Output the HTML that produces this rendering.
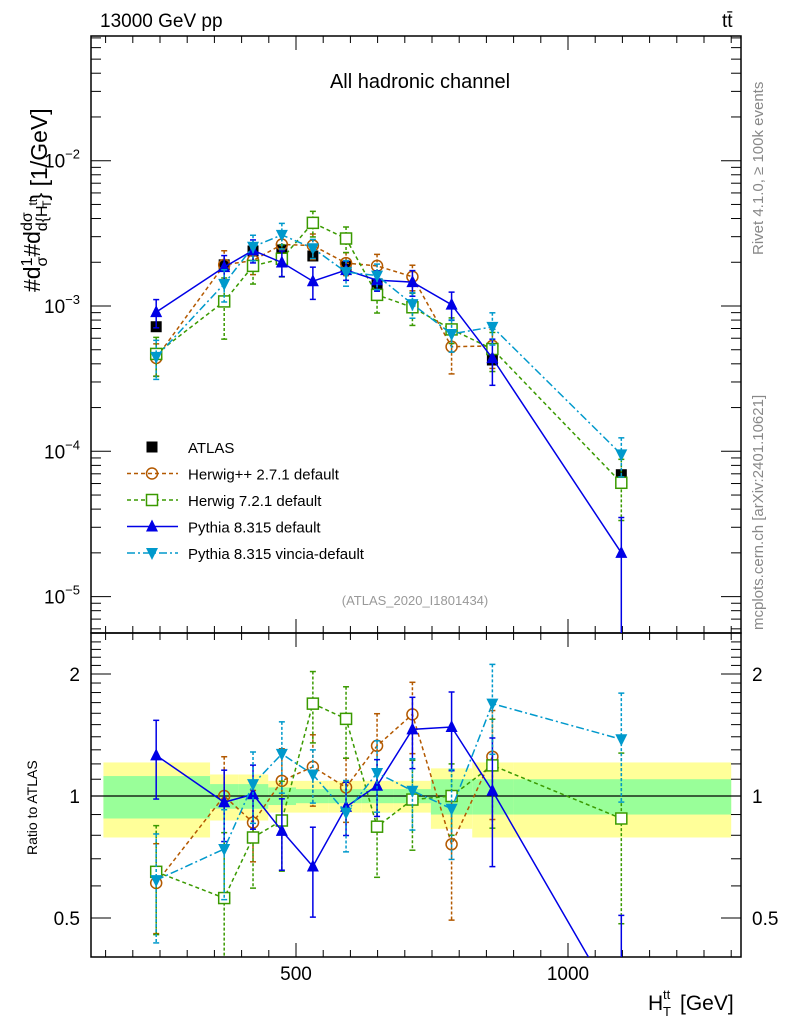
<!DOCTYPE html>
<html><head><meta charset="utf-8"><style>
html,body{margin:0;padding:0;background:#fff;}
svg text{font-family:"Liberation Sans",sans-serif;}
</style></head><body>
<svg id="chart" width="786" height="1024" xmlns="http://www.w3.org/2000/svg">
<g id="bands"></g>
<g id="grid"></g>
<g id="series"></g>
<text x="100" y="27" font-size="19">13000 GeV pp</text>
<text x="722" y="27" font-size="19">tt̄</text>
<text x="420" y="88" font-size="20" text-anchor="middle">All hadronic channel</text>
<text x="415" y="605" font-size="13" fill="#999" text-anchor="middle">(ATLAS_2020_I1801434)</text>
<text transform="translate(40,292) rotate(-90)" font-size="23">#d<tspan font-size="16" dy="-8">1</tspan><tspan font-size="16" dx="-9" dy="15">σ</tspan><tspan dy="-7">#d</tspan><tspan font-size="16" dy="-8">dσ</tspan><tspan font-size="16" dx="-19" dy="15">d{H</tspan><tspan font-size="12" dy="-10">tt</tspan><tspan font-size="12" dx="-9" dy="14">T</tspan><tspan dy="-4">} [1/GeV]</tspan></text>
<text transform="translate(763,255) rotate(-90)" font-size="15" fill="#888">Rivet 4.1.0, ≥ 100k events</text>
<text transform="translate(763,630) rotate(-90)" font-size="15" fill="#888">mcplots.cern.ch [arXiv:2401.10621]</text>
<text transform="translate(37,855) rotate(-90)" font-size="14">Ratio to ATLAS</text>
<g>
<text x="648" y="1010" font-size="21">H</text>
<text x="663" y="999" font-size="13">tt</text>
<text x="663" y="1016" font-size="13">T</text>
<text x="680" y="1010" font-size="21">[GeV]</text>
</g>
<g id="legend"></g>
</svg>
<script>
const xs = [243, 368, 421, 474, 531, 592, 649, 714, 786, 861, 1098];
const edges = [146, 342, 394, 449, 500, 560, 620, 680, 748, 824, 900, 1300];
const atlas = [7.2e-4, 1.92e-3, 2.39e-3, 2.43e-3, 2.21e-3, 1.88e-3, 1.42e-3, 1.0e-3, 6.9e-4, 4.25e-4, 6.9e-5];
const bandTot = [0.21, 0.13, 0.13, 0.09, 0.09, 0.09, 0.09, 0.09, 0.17, 0.21, 0.21];
const bandStat = [0.12, 0.07, 0.07, 0.05, 0.04, 0.04, 0.04, 0.04, 0.10, 0.10, 0.10];
const rHerwigpp = [0.61, 1.0, 0.86, 1.09, 1.18, 1.05, 1.33, 1.59, 0.76, 1.25];
const eHerwigpp = [0.25, 0.25, 0.2, 0.2, 0.2, 0.18, 0.2, 0.2, 0.35, 0.3];
const rHerwig7 = [0.65, 0.56, 0.79, 0.87, 1.69, 1.55, 0.84, 0.98, 1.0, 1.19, 0.88];
const eHerwig7 = [0.3, 0.45, 0.25, 0.25, 0.2, 0.2, 0.25, 0.25, 0.2, 0.3, 0.45];
const rPythia = [1.26, 0.965, 1.01, 0.82, 0.67, 0.94, 1.06, 1.46, 1.48, 1.03, 0.29];
const ePythia = [0.22, 0.2, 0.18, 0.2, 0.25, 0.15, 0.16, 0.2, 0.22, 0.35, 0.75];
const rVincia = [0.62, 0.74, 1.07, 1.27, 1.13, 0.91, 1.14, 1.03, 0.93, 1.69, 1.38];
const eVincia = [0.3, 0.25, 0.2, 0.2, 0.15, 0.2, 0.2, 0.2, 0.25, 0.25, 0.3];
const mainTicks = ["10^-2", "10^-3", "10^-4", "10^-5"];
const ratioTicks = [0.5, 1, 2];
const xTicks = [500, 1000];

const NS = "http://www.w3.org/2000/svg";
const L = 91, R = 741, T = 36, M = 633, B = 957;
const X = v => 24 + v * 0.544;
const YM = v => 306 - (Math.log10(v) + 3) * 145.3;
const YR = v => 796 - Math.log2(v) * 122;
function mk(tag, attrs, parent) { const e = document.createElementNS(NS, tag); for (const k in attrs) e.setAttribute(k, attrs[k]); parent.appendChild(e); return e; }
const g = document.getElementById('grid'), bands = document.getElementById('bands'), ser = document.getElementById('series'), leg = document.getElementById('legend');

for (let i = 0; i < bandTot.length; i++) {
  const x0 = X(edges[i]), x1 = X(edges[i + 1]);
  const y = mk('rect', { x: x0, y: YR(1 + bandTot[i]), width: x1 - x0, height: YR(1 - bandTot[i]) - YR(1 + bandTot[i]), fill: '#ffff99' }, bands);
  
  
}
for (let i = 0; i < bandStat.length; i++) {
  const x0 = X(edges[i]), x1 = X(edges[i + 1]);
  const r = mk('rect', { x: x0, y: YR(1 + bandStat[i]), width: x1 - x0, height: YR(1 - bandStat[i]) - YR(1 + bandStat[i]), fill: '#99ff99' }, bands);
  
  
}
const one = mk('line', { x1: L, x2: R, y1: YR(1), y2: YR(1), stroke: '#000', 'stroke-width': 1.3 }, bands);



for (const [y0, y1, nm] of [[T, M, 'main-frame'], [M, B, 'ratio-frame']]) {
  const f = mk('rect', { x: L, y: y0, width: R - L, height: y1 - y0, fill: 'none', stroke: '#000', 'stroke-width': 1.5 }, g);
  
  
}
for (let v = 150; v <= 1300; v += 50) {
  const x = X(v); if (x < L || x > R) continue;
  const big = v % 500 === 0, len = big ? 14 : 7;
  for (const [y, d] of [[B, -1], [M, -1], [M, 1], [T, 1]]) mk('line', { x1: x, x2: x, y1: y, y2: y + d * len, stroke: '#000' }, g);
}
xTicks.forEach(v => {
  const t = mk('text', { x: X(v), y: 980, 'font-size': 19, 'text-anchor': 'middle' }, g);
  t.textContent = v;
  
  
});
for (let d = -6; d <= -1; d++) for (let m = 1; m <= 9; m++) {
  const v = m * Math.pow(10, d), y = YM(v); if (y < T || y > M) continue;
  const len = m === 1 ? 20 : 10;
  mk('line', { x1: L, x2: L + len, y1: y, y2: y, stroke: '#000' }, g);
  mk('line', { x1: R, x2: R - len, y1: y, y2: y, stroke: '#000' }, g);
}
mainTicks.forEach(s => {
  const e = parseInt(s.split('^')[1]);
  const t = mk('text', { x: 80, y: YM(Math.pow(10, e)) + 7, 'font-size': 19, 'text-anchor': 'end' }, g);
  t.innerHTML = '10<tspan font-size="13" dy="-9">' + e.toString().replace('-', '−') + '</tspan>';
  
  
});
for (let v = 0.4; v <= 2.5; v += 0.1) {
  const y = YR(v); if (y < M || y > B) continue;
  const big = Math.abs(v - 0.5) < 1e-6 || Math.abs(v - 1) < 1e-6 || Math.abs(v - 2) < 1e-6;
  const len = big ? 20 : 10;
  mk('line', { x1: L, x2: L + len, y1: y, y2: y, stroke: '#000' }, g);
  mk('line', { x1: R, x2: R - len, y1: y, y2: y, stroke: '#000' }, g);
}
ratioTicks.forEach(v => {
  for (const [x, a] of [[80, 'end'], [752, 'start']]) {
    const t = mk('text', { x: x, y: YR(v) + 7, 'font-size': 19, 'text-anchor': a }, g);
    t.textContent = v;
    
    
  }
});

function marker(p, type, x, y, col, name) {
  let e;
  if (type === 'sq') e = mk('rect', { x: x - 5.5, y: y - 5.5, width: 11, height: 11, fill: '#000' }, p);
  if (type === 'osq') e = mk('rect', { x: x - 5.5, y: y - 5.5, width: 11, height: 11, fill: '#fff', stroke: col, 'stroke-width': 1.5 }, p);
  if (type === 'oc') e = mk('circle', { cx: x, cy: y, r: 5.5, fill: 'none', stroke: col, 'stroke-width': 1.5 }, p);
  if (type === 'up') e = mk('polygon', { points: `${x},${y - 7} ${x - 6},${y + 5} ${x + 6},${y + 5}`, fill: col }, p);
  if (type === 'dn') e = mk('polygon', { points: `${x},${y + 7} ${x - 6},${y - 5} ${x + 6},${y - 5}`, fill: col }, p);
  
  
}
function clipY(y, lo, hi) { return Math.max(lo, Math.min(hi, y)); }
const defs = [
  { r: rHerwigpp, e: eHerwigpp, col: '#b35900', m: 'oc', dash: '4,3', name: 'herwigpp', lab: 'Herwig++ 2.7.1 default' },
  { r: rHerwig7, e: eHerwig7, col: '#3a9a00', m: 'osq', dash: '4,3', name: 'herwig7', lab: 'Herwig 7.2.1 default' },
  { r: rPythia, e: ePythia, col: '#0000e6', m: 'up', dash: '', name: 'pythia', lab: 'Pythia 8.315 default' },
  { r: rVincia, e: eVincia, col: '#0099cc', m: 'dn', dash: '8,3,2,3', name: 'vincia', lab: 'Pythia 8.315 vincia-default' },
];
function drawSeries(d, main) {
  const grp = mk('g', {}, ser);
  
  
  const lo = main ? T : M, hi = main ? M : B;
  const cp = mk('clipPath', { id: 'c' + d.name + main }, grp);
  mk('rect', { x: L, y: lo, width: R - L, height: hi - lo }, cp);
  const inner = mk('g', { 'clip-path': `url(#c${d.name}${main})` }, grp);
  const val = i => main ? atlas[i] * d.r[i] : d.r[i];
  const Y = main ? YM : YR;
  const pts = d.r.map((v, i) => `${X(xs[i])},${Y(val(i))}`).join(' ');
  const ln = mk('polyline', { points: pts, fill: 'none', stroke: d.col, 'stroke-width': 1.5, 'stroke-dasharray': d.dash }, inner);
  
  
  d.r.forEach((v, i) => {
    const x = X(xs[i]), vv = val(i);
    const y1 = Y(vv * (1 + d.e[i])), y2 = Y(Math.max(vv * (1 - d.e[i]), 1e-9));
    const eb = mk('line', { x1: x, x2: x, y1: clipY(y1, lo, hi), y2: clipY(y2, lo, hi), stroke: d.col, 'stroke-width': 1.5, 'stroke-dasharray': d.dash ? '3,2' : '' }, inner);
    
    
    for (const yy of [y1, y2]) if (yy > lo && yy < hi) mk('line', { x1: x - 3, x2: x + 3, y1: yy, y2: yy, stroke: d.col, 'stroke-width': 1.5 }, inner);
    marker(inner, d.m, x, Y(vv), d.col, d.name + '-point');
  });
}
atlas.forEach((v, i) => marker(ser, 'sq', X(xs[i]), YM(v), '#000', 'atlas-point'));
defs.forEach(d => { drawSeries(d, true); drawSeries(d, false); });

const items = [{ m: 'sq', col: '#000', dash: null, lab: 'ATLAS', name: 'atlas' }].concat(defs);
items.forEach((it, k) => {
  const y = 447 + k * 26.5;
  const gi = mk('g', {}, leg);
  
  
  if (it.dash !== null && it.dash !== undefined) mk('line', { x1: 127, x2: 178, y1: y, y2: y, stroke: it.col, 'stroke-width': 1.5, 'stroke-dasharray': it.dash }, gi);
  marker(gi, it.m, 152, y, it.col, 'legend-marker');
  const t = mk('text', { x: 188, y: y + 6, 'font-size': 15 }, gi);
  t.textContent = it.lab;
});
</script>
</body></html>
